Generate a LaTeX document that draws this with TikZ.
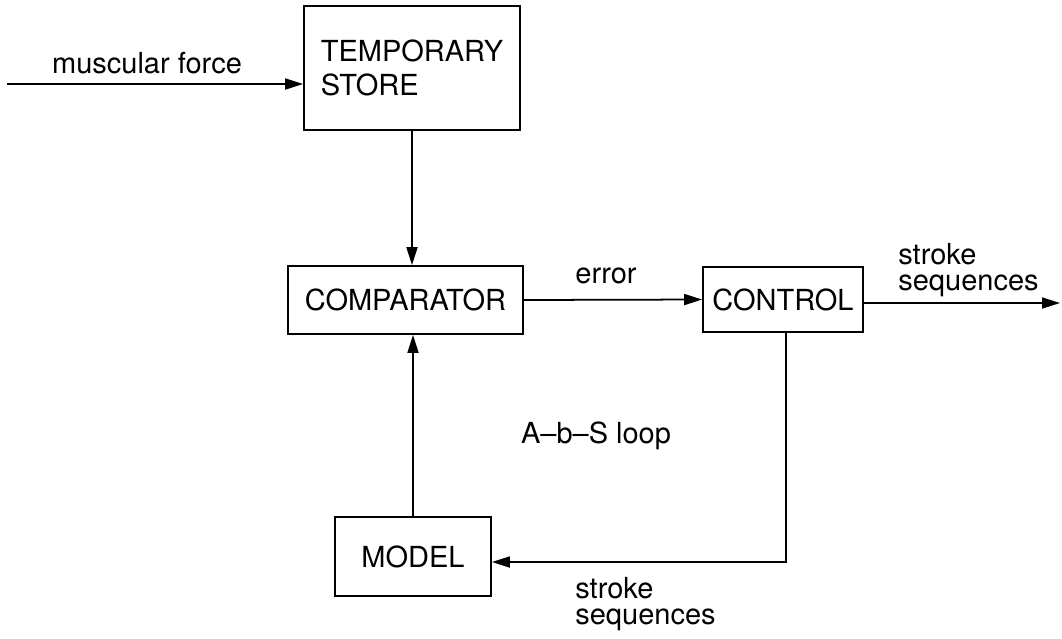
\documentclass[tikz,border=0pt]{standalone}
\usepackage{fontspec}
\setmainfont{TeX Gyre Heros}
\usepackage{tikz}
\usetikzlibrary{positioning}
\usetikzlibrary{arrows.meta}
\pgfdeclarelayer{nodelayer}
\pgfdeclarelayer{edgelayer}
\pgfsetlayers{nodelayer,edgelayer,main}
\tikzset{
    none/.style = {inner sep=0pt},
    block/.style = {draw, line width=1pt, inner sep=0pt, font=\fontsize{16.5}{19}\selectfont},
    flow/.style = {line width=1pt, -{Triangle[length=3.6mm, width=2.2mm]}}
}

\begin{document}
\begin{tikzpicture}[x=0.2mm, y=-0.2mm, font=\fontsize{16.5}{15}\selectfont]
    \useasboundingbox (0,0) rectangle (1062,638);
    \begin{pgfonlayer}{nodelayer}
        \node [style=block, align=left, minimum width=43.2mm, minimum height=24.8mm] (0) at (412, 68) {TEMPORARY\\STORE};
        \node [style=block, minimum width=47mm, minimum height=13.6mm] (1) at (405.5, 300) {COMPARATOR};
        \node [style=block, minimum width=32mm, minimum height=13mm] (2) at (783, 299.5) {CONTROL};
        \node [style=block, minimum width=31.2mm, minimum height=15.8mm] (3) at (413, 556.5) {MODEL};
        \coordinate (4) at (7, 84);
        \coordinate (5) at (1060, 303);
        \coordinate (6) at (786, 562);
        \node [style=none, anchor=base] (7) at (147, 73) {muscular force};
        \node [style=none, anchor=base] (8) at (606, 283) {error};
        \node [style=none, anchor=north west, align=left] (9) at (898, 243) {stroke\\sequences};
        \node [style=none, anchor=base] (10) at (596, 443) {A--b--S loop};
        \node [style=none, anchor=north west, align=left] (11) at (575, 577) {stroke\\sequences};
    \end{pgfonlayer}
    \begin{pgfonlayer}{edgelayer}
        \draw [style=flow] (4) to (4 -| 0.west);
        \draw [style=flow] (0.south) to (0.south |- 1.north);
        \draw [style=flow] (1.east) to (2.west);
        \draw [style=flow] (2.east |- 5) to (5);
        % feedback from control back round to the model
        \draw [style=flow] (2.south -| 6) -- (6) -- (6 -| 3.east);
        \draw [style=flow] (3.north) to (3.north |- 1.south);
    \end{pgfonlayer}
\end{tikzpicture}
\end{document}
